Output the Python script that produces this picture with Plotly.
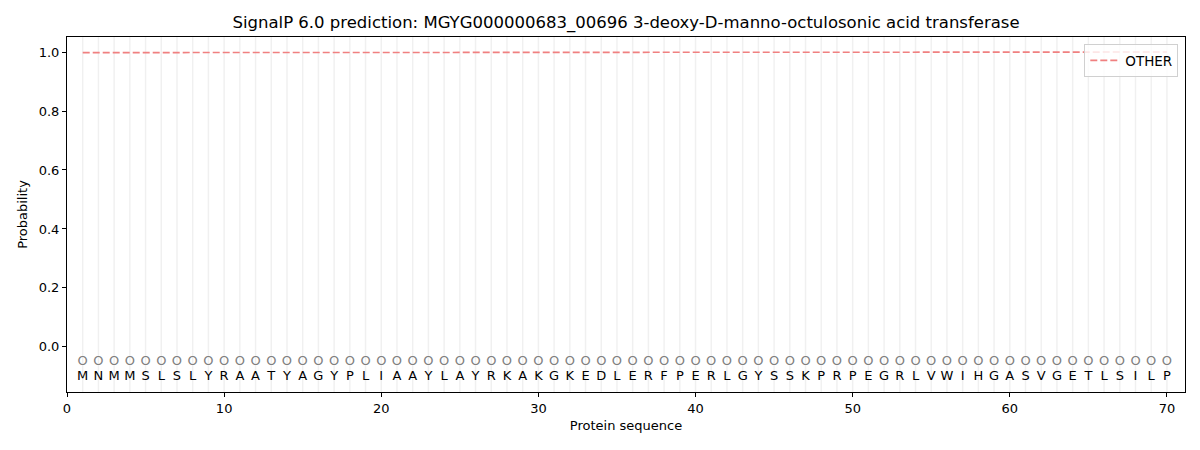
import plotly.graph_objects as go

sequence = list("MNMMSLSLYRAATYAGYPLIAAYLAYRKAKGKEDLERFPERLGYSSKPRPEGRLVWIHGASVGETLSILP")
positions = list(range(1, len(sequence) + 1))
predicted = ["O"] * len(sequence)

# probability of OTHER per residue (~1.0 all along)
prob_other = [
    0.998, 0.998, 0.998, 0.998, 0.998, 0.998, 0.998, 0.998, 0.998, 0.998,
    0.998, 0.998, 0.998, 0.998, 0.998, 0.998, 0.998, 0.998, 0.998, 0.998,
    0.998, 0.998, 0.998, 0.998, 0.998, 0.998, 0.998, 0.999, 0.999, 0.999,
    0.999, 0.999, 0.999, 0.999, 0.999, 0.999, 0.999, 0.999, 0.999, 0.999,
    0.999, 0.999, 0.999, 0.999, 0.999, 0.999, 0.999, 0.999, 0.999, 0.999,
    0.999, 0.999, 0.999, 0.999, 0.999, 0.999, 0.999, 0.999, 0.999, 1.000,
    1.000, 1.000, 1.000, 1.000, 1.000, 1.000, 1.000, 1.000, 1.000, 1.000,
]

title = "SignalP 6.0 prediction: MGYG000000683_00696 3-deoxy-D-manno-octulosonic acid transferase"

fig = go.Figure()

for p in positions:
    fig.add_vline(x=p, line_color="rgba(0,0,0,0.06)", line_width=1.5, layer="below")

fig.add_trace(go.Scatter(
    x=positions, y=prob_other, mode="lines", name="OTHER",
    line=dict(color="#f08080", width=1.6, dash="7px,3px"),
))

fig.add_trace(go.Scatter(
    x=positions, y=[-0.05] * len(positions), mode="text", text=predicted,
    textfont=dict(color="#808080", size=13, family="DejaVu Sans"),
    showlegend=False, hoverinfo="skip",
))

fig.add_trace(go.Scatter(
    x=positions, y=[-0.1] * len(positions), mode="text", text=sequence,
    textfont=dict(color="black", size=13, family="DejaVu Sans"),
    showlegend=False, hoverinfo="skip",
))

axis_common = dict(
    showline=True, linecolor="black", linewidth=1, mirror=True, automargin=False,
    ticks="outside", ticklen=4, tickcolor="black", showgrid=False, zeroline=False,
    tickfont=dict(size=13, color="black"),
)

fig.update_xaxes(range=[0, 71.15], tickvals=[0, 10, 20, 30, 40, 50, 60, 70],
                 title=dict(text="Protein sequence", font=dict(size=13), standoff=6), **axis_common)
fig.update_yaxes(range=[-0.153, 1.051], tickvals=[0, 0.2, 0.4, 0.6, 0.8, 1.0],
                 tickformat=".1f", title=dict(text="Probability", font=dict(size=13), standoff=8),
                 **axis_common)

# the page body adds an 8px offset, so margins are shifted to compensate
fig.update_layout(
    width=1200, height=450,
    margin=dict(l=59, r=23, t=29, b=66, autoexpand=False),
    plot_bgcolor="white", paper_bgcolor="white",
    font=dict(family="DejaVu Sans", color="black"),
    title=dict(text=title, xref="paper", x=0.5, xanchor="center", y=0.969, yanchor="middle",
               font=dict(size=16.5, color="black")),
    legend=dict(x=0.994, y=0.98, xanchor="right", yanchor="top",
                bordercolor="#d0d0d0", borderwidth=1, bgcolor="rgba(255,255,255,0.8)",
                font=dict(size=13.5)),
)

fig.write_html("out.html")
